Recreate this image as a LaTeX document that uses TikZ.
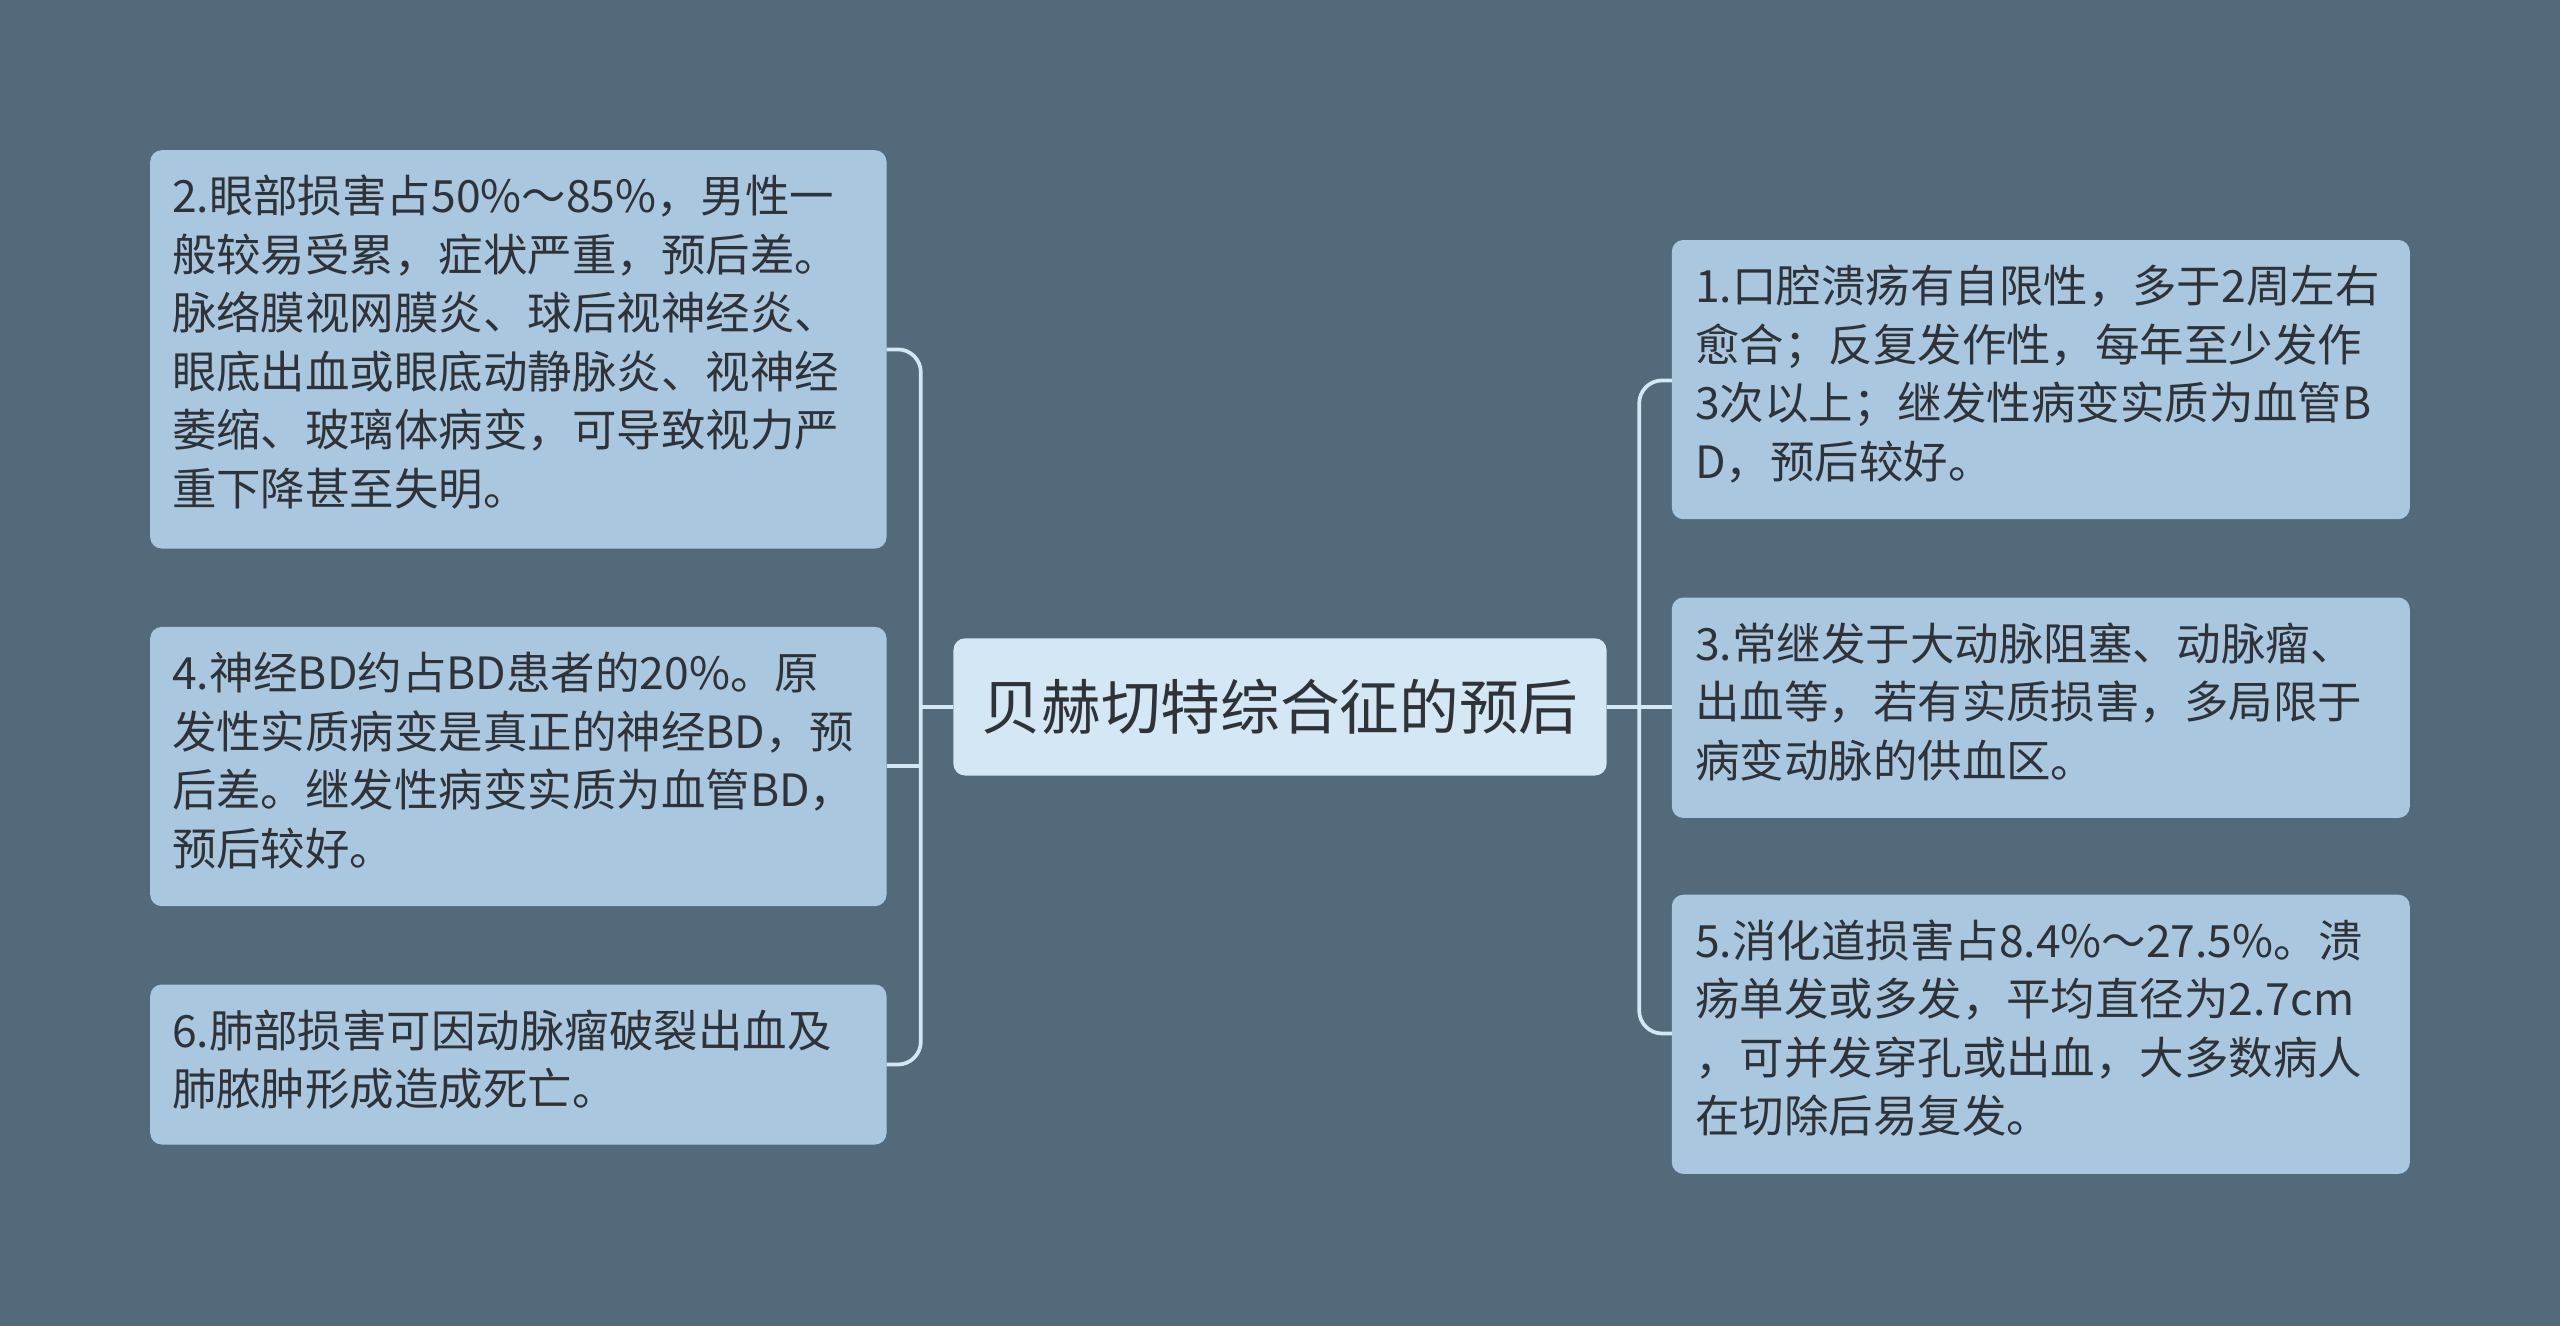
\documentclass[tikz,border=0pt]{standalone}
\usepackage{fontspec}
\setmainfont{Noto Sans CJK SC}
\begin{document}
\begin{tikzpicture}[x=0.02cm,y=-0.02cm,
  txt/.style={text=txtc,font=\fontsize{15.5}{20.4}\selectfont,align=left,anchor=north west,inner sep=0pt},
  conn/.style={draw=linec,line width=1.3pt,rounded corners=8pt}]
\definecolor{bg}{HTML}{526A7A}
\definecolor{boxc}{HTML}{A9C8DF}
\definecolor{cenc}{HTML}{D3E7F4}
\definecolor{txtc}{HTML}{2F3338}
\definecolor{linec}{HTML}{D3E7F4}
\fill[bg] (0,0) rectangle (1568,812);
\useasboundingbox (0,0) rectangle (1568,812);
% boxes
\fill[boxc,rounded corners=4pt] (92,92) rectangle (543,336);
\fill[boxc,rounded corners=4pt] (92,384) rectangle (543,555);
\fill[boxc,rounded corners=4pt] (92,603) rectangle (543,701);
\fill[boxc,rounded corners=4pt] (1024,147) rectangle (1476,318);
\fill[boxc,rounded corners=4pt] (1024,366) rectangle (1476,501);
\fill[boxc,rounded corners=4pt] (1024,548) rectangle (1476,719);
\node[fill=cenc,rounded corners=4pt,minimum width=400*0.02cm,minimum height=84*0.02cm,text=txtc,font=\fontsize{20.8}{24}\selectfont] (c) at (784,433) {贝赫切特综合征的预后};
\coordinate (l1) at (543,214); \coordinate (l2) at (543,469); \coordinate (l3) at (543,652);
\coordinate (r1) at (1024,233); \coordinate (r2) at (1024,433); \coordinate (r3) at (1024,633);
\draw[conn] (c.west) -- (564,433);
\draw[conn] (l1) -- (564,214) -- (564,652) -- (l3);
\draw[conn] (564,469) -- (l2);
\draw[conn] (c.east) -- (1004,433) -- (r2);
\draw[conn] (r1) -- (1004,233) -- (1004,633) -- (r3);
\node[txt] (t1) at (105,107) {2.眼部损害占50\%～85\%，男性一\\般较易受累，症状严重，预后差。\\脉络膜视网膜炎、球后视神经炎、\\眼底出血或眼底动静脉炎、视神经\\萎缩、玻璃体病变，可导致视力严\\重下降甚至失明。};
\node[txt] (t2) at (105,399) {4.神经BD约占BD患者的20\%。原\\发性实质病变是真正的神经BD，预\\后差。继发性病变实质为血管BD，\\预后较好。};
\node[txt] (t3) at (105,618) {6.肺部损害可因动脉瘤破裂出血及\\肺脓肿形成造成死亡。};
\node[txt] (t4) at (1038,162) {1.口腔溃疡有自限性，多于2周左右\\愈合；反复发作性，每年至少发作\\3次以上；继发性病变实质为血管B\\D，预后较好。};
\node[txt] (t5) at (1038,381) {3.常继发于大动脉阻塞、动脉瘤、\\出血等，若有实质损害，多局限于\\病变动脉的供血区。};
\node[txt] (t6) at (1038,563) {5.消化道损害占8.4\%～27.5\%。溃\\疡单发或多发，平均直径为2.7cm\\，可并发穿孔或出血，大多数病人\\在切除后易复发。};
\end{tikzpicture}
\end{document}
